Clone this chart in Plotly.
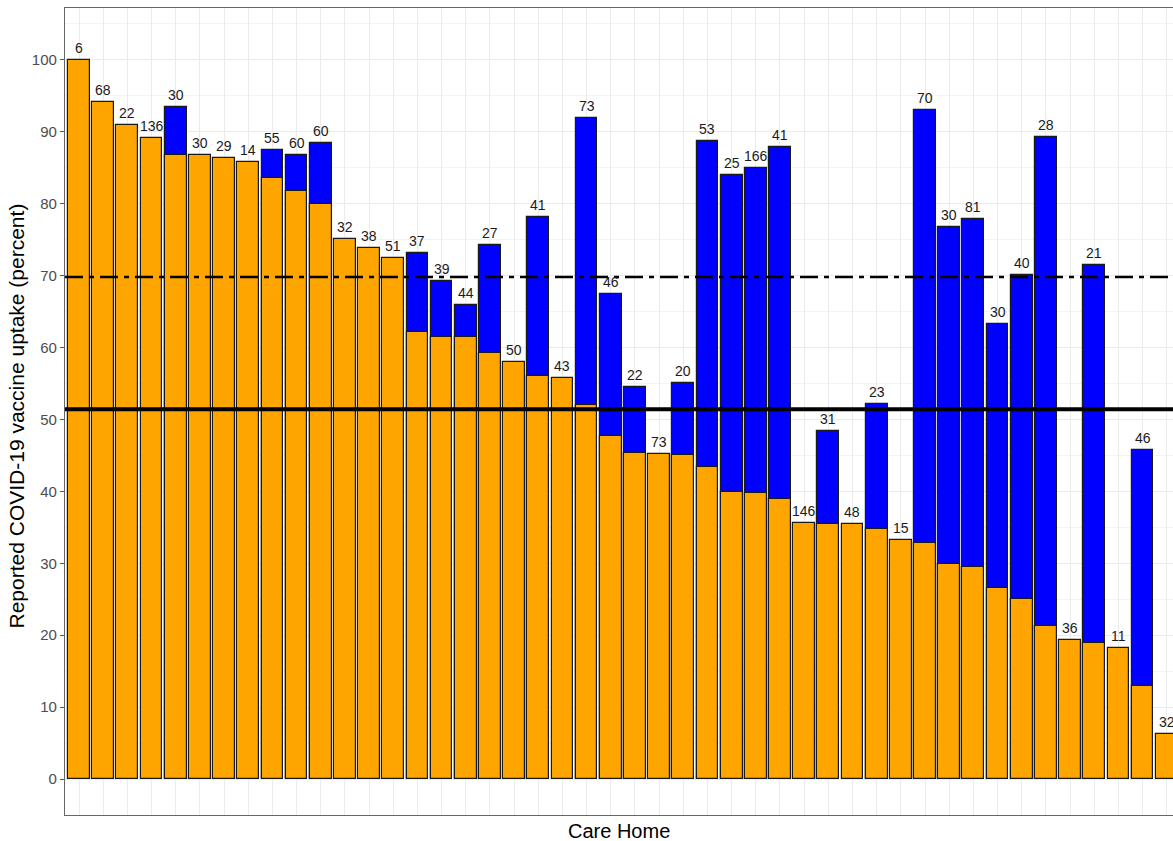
import plotly.graph_objects as go

# Data
home_index = list(range(1, 47))
sample_size = [6, 68, 22, 136, 30, 30, 29, 14, 55, 60, 60, 32, 38, 51, 37, 39, 44, 27, 50, 41,
               43, 73, 46, 22, 73, 20, 53, 25, 166, 41, 146, 31, 48, 23, 15, 70, 30, 81, 30, 40,
               28, 36, 21, 11, 46, 32]
orange_uptake = [100.0, 94.2, 91.0, 89.1, 86.7, 86.7, 86.3, 85.8, 83.6, 81.7, 80.0, 75.1, 73.8, 72.5,
                 62.2, 61.5, 61.4, 59.3, 58.0, 56.1, 55.8, 52.0, 47.7, 45.4, 45.2, 45.0, 43.4, 39.9,
                 39.7, 38.9, 35.6, 35.4, 35.4, 34.8, 33.3, 32.8, 29.9, 29.5, 26.6, 25.0, 21.3, 19.4,
                 18.9, 18.2, 12.9, 6.2]
blue_uptake = [None, None, None, None, 93.4, None, None, None, 87.4, 86.7, 88.4, None, None, None,
               73.1, 69.3, 65.9, 74.2, None, 78.1, None, 91.9, 67.5, 54.5, None, 55.0, 88.7, 84.0,
               84.9, 87.9, None, 48.4, None, 52.2, None, 93.0, 76.8, 77.9, 63.3, 70.1, 89.3, None,
               71.5, None, 45.7, None]
solid_ref = 51.4
dashdot_ref = 69.8
y_ticks = [0, 10, 20, 30, 40, 50, 60, 70, 80, 90, 100]

FONT = "Liberation Sans, Arial, sans-serif"

FIG_W, FIG_H = 1173, 841
M_L, M_R, M_T, M_B = 65, 0, 8, 26
plot_w = FIG_W - M_L - M_R
plot_h = FIG_H - M_T - M_B

fig = go.Figure()
fig.add_trace(go.Bar(
    x=home_index, y=[b if b is not None else 0 for b in blue_uptake],
    width=0.9, marker=dict(color="#0000FF", line=dict(color="#1a1a1a", width=1.2)),
    showlegend=False, hoverinfo="skip"))
fig.add_trace(go.Bar(
    x=home_index, y=orange_uptake,
    width=0.9, marker=dict(color="#FFA500", line=dict(color="#1a1a1a", width=1.2)),
    showlegend=False, hoverinfo="skip"))

annotations = []
for i, n, o, b in zip(home_index, sample_size, orange_uptake, blue_uptake):
    top = max(o, b if b is not None else 0)
    annotations.append(dict(x=i, y=top, text=str(n), showarrow=False, xref="x", yref="y",
                            yanchor="bottom", yshift=2,
                            font=dict(family=FONT, size=14, color="#1a1a1a")))

annotations.append(dict(x=0.5, y=0, xref="paper", yref="paper", text="Care Home",
                        showarrow=False, xanchor="center", yanchor="middle", yshift=-16,
                        font=dict(family=FONT, size=20, color="#000000")))
annotations.append(dict(x=-(M_L - 16) / plot_w, y=0.5, xref="paper", yref="paper",
                        text="Reported COVID-19 vaccine uptake (percent)", textangle=-90,
                        showarrow=False, xanchor="center", yanchor="middle", yshift=-5,
                        font=dict(family=FONT, size=21, color="#000000")))

shapes = [
    dict(type="line", xref="paper", x0=0, x1=1, yref="y", y0=dashdot_ref, y1=dashdot_ref,
         line=dict(color="#000000", width=2.7, dash="18px,6px,5px,6px")),
    dict(type="line", xref="paper", x0=0, x1=1, yref="y", y0=solid_ref, y1=solid_ref,
         line=dict(color="#000000", width=4)),
]

fig.update_layout(
    width=FIG_W, height=FIG_H,
    margin=dict(l=M_L, r=M_R, t=M_T, b=M_B),
    paper_bgcolor="white", plot_bgcolor="white",
    barmode="overlay", bargap=0,
    annotations=annotations, shapes=shapes,
    font=dict(family=FONT),
    xaxis=dict(range=[0.42, 46.26], tickvals=home_index, showticklabels=False, ticks="",
               showgrid=True, gridcolor="#EBEBEB", gridwidth=1.1, zeroline=False,
               showline=True, linecolor="#666666", linewidth=1.2, mirror=True),
    yaxis=dict(range=[-5.0, 107.2], tickvals=y_ticks, ticks="outside", ticklen=4,
               tickcolor="#555555", tickwidth=1.1,
               tickfont=dict(family=FONT, size=15, color="#4D4D4D"),
               showgrid=True, gridcolor="#EBEBEB", gridwidth=1.1, zeroline=False,
               minor=dict(tick0=5, dtick=10, showgrid=True, gridcolor="#F3F3F3", gridwidth=0.7),
               showline=True, linecolor="#666666", linewidth=1.2, mirror=True),
)

fig.write_html(
    "out.html",
    config={"displayModeBar": False},
    post_script="document.body.style.margin='0';document.body.style.overflow='hidden';",
)
